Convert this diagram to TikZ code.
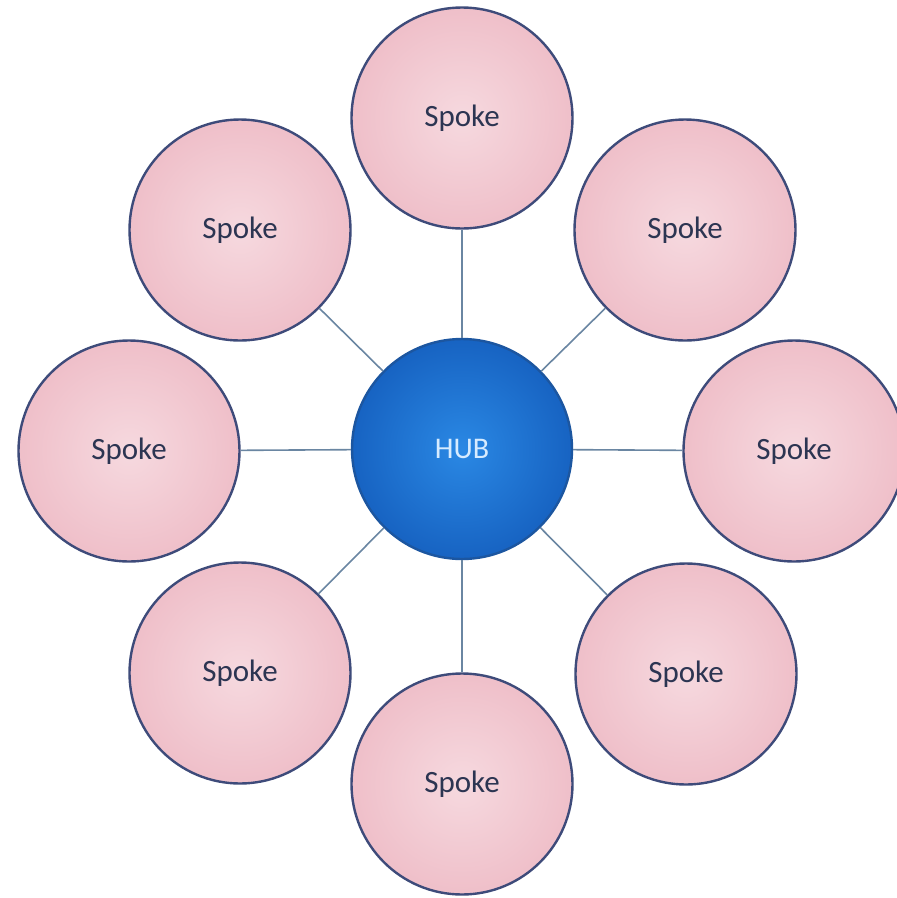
\documentclass[tikz,border=0pt]{standalone}
\usepackage{fontspec}
\setmainfont{Carlito}
\usetikzlibrary{shapes.geometric}
\definecolor{spokefill}{HTML}{EFBFC9}
\definecolor{spokecore}{HTML}{F6D9DF}
\definecolor{spokeline}{HTML}{3E4B7A}
\definecolor{spoketext}{HTML}{2C3552}
\definecolor{hubouter}{HTML}{1763C2}
\definecolor{hubinner}{HTML}{2A88E4}
\definecolor{hubline}{HTML}{1C56A0}
\definecolor{hubtext}{HTML}{D6EBFF}
\definecolor{linkcol}{HTML}{6A86A2}
\tikzset{
  spokenode/.style={circle, draw=spokeline, line width=2.4pt, minimum size=221pt,
    inner sep=0pt, inner color=spokecore, outer color=spokefill,
    text=spoketext, font=\fontsize{31}{36}\selectfont},
  hubnode/.style={circle, draw=hubline, line width=2.4pt, minimum size=220pt,
    inner sep=0pt, inner color=hubinner, outer color=hubouter,
    text=hubtext, font=\fontsize{30}{36}\selectfont},
  link/.style={draw=linkcol, line width=1.6pt}
}
\begin{document}
\begin{tikzpicture}[x=1pt, y=-1pt]
  \useasboundingbox (0,0) rectangle (897,898);
  \clip (0,0) rectangle (897,898);
  % centre
  \node[hubnode] (hub) at (462,449) {HUB};
  % ring of spokes
  \node[spokenode] (top)   at (462,118) {Spoke};
  \node[spokenode] (tr)    at (685,230) {Spoke};
  \node[spokenode] (right) at (794,451) {Spoke};
  \node[spokenode] (br)    at (686,674) {Spoke};
  \node[spokenode] (bot)   at (462,784) {Spoke};
  \node[spokenode] (bl)    at (240,673) {Spoke};
  \node[spokenode] (left)  at (129,451) {Spoke};
  \node[spokenode] (tl)    at (240,230) {Spoke};
  % links from the hub
  \foreach \s in {top,tr,right,br,bot,bl,left,tl}
    \draw[link] (hub) -- (\s);
\end{tikzpicture}
\end{document}
